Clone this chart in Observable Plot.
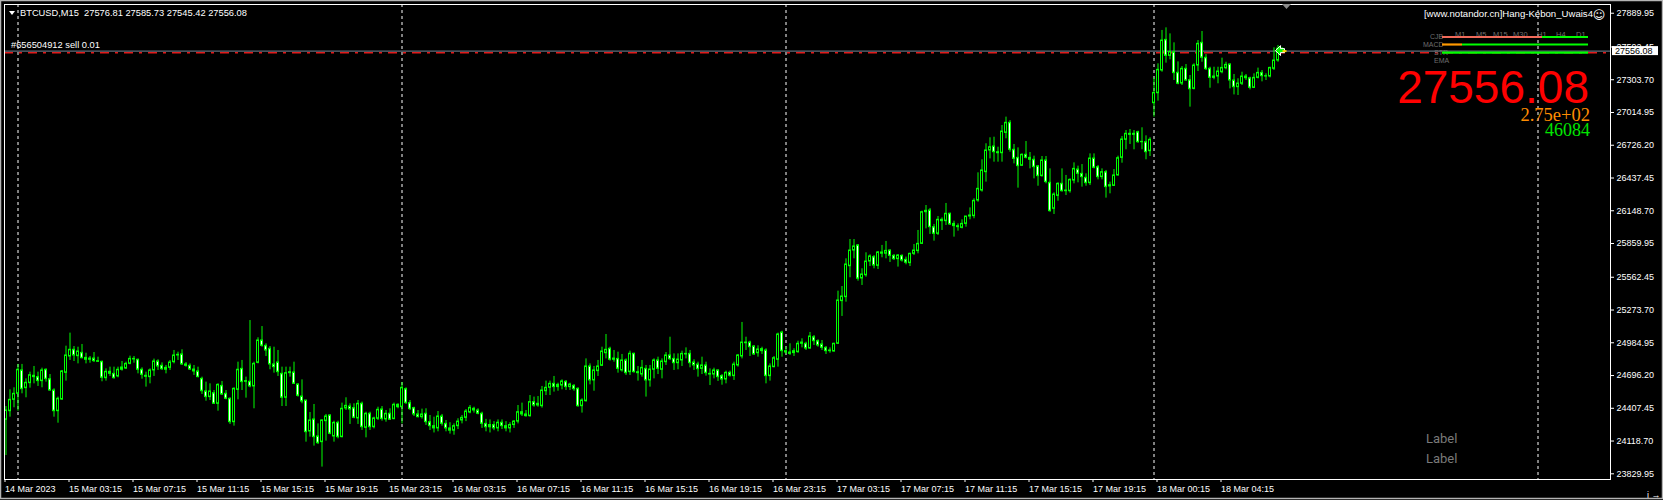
<!DOCTYPE html>
<html><head><meta charset="utf-8">
<script src="https://cdn.jsdelivr.net/npm/d3@7"></script>
<script src="https://cdn.jsdelivr.net/npm/@observablehq/plot@0.6"></script>
<style>
html,body{margin:0;padding:0;background:#000;overflow:hidden}
#chart svg{display:block}
</style></head><body><div id="chart"></div>
<script>
// ---- data (BTCUSD, M15) ----
const opens = [24306,24382,24482,24535,24741,24585,24629,24694,24682,24647,24747,24664,24564,24382,24485,24720,24864,24923,24867,24896,
24852,24835,24846,24823,24817,24673,24729,24711,24688,24747,24758,24799,24843,24835,24747,24694,24682,24741,24820,24782,
24747,24764,24814,24873,24882,24794,24782,24749,24732,24667,24556,24506,24541,24447,24605,24535,24491,24285,24570,24755,
24641,24641,24600,24808,25005,24958,24932,24794,24811,24711,24500,24717,24723,24617,24511,24476,24203,24309,24159,24109,
24294,24344,24159,24279,24153,24406,24423,24409,24318,24447,24235,24359,24241,24315,24397,24309,24359,24312,24438,24417,
24576,24453,24409,24353,24329,24359,24285,24250,24230,24335,24270,24230,24210,24250,24300,24323,24370,24403,24388,24359,
24270,24240,24260,24230,24280,24250,24230,24260,24290,24373,24353,24338,24462,24432,24426,24558,24588,24623,24594,24608,
24641,24594,24605,24579,24426,24470,24776,24653,24735,24782,24893,24932,24835,24843,24741,24829,24726,24888,24726,24705,
24755,24653,24747,24829,24747,24814,24873,24843,24805,24829,24887,24887,24811,24793,24755,24785,24711,24705,24741,24691,
24661,24720,24691,24785,24864,24987,24987,24952,24893,24929,24917,24691,24770,24835,25075,24911,24899,24894,24902,24976,
24976,24934,25034,24999,24970,24940,24911,24908,24976,25352,25387,25660,25798,25843,25552,25580,25701,25740,25663,25781,
25770,25798,25751,25722,25751,25716,25687,25769,25793,25857,26136,26151,26004,25945,26069,26057,26122,26033,26013,25998,
26033,26098,26101,26239,26327,26489,26680,26715,26665,26656,26835,26924,26686,26615,26545,26642,26615,26598,26540,26454,
26592,26395,26166,26280,26386,26321,26321,26415,26512,26474,26439,26392,26609,26533,26445,26489,26363,26368,26460,26615,
26774,26827,26818,26841,26753,26753,26674,27097,27185,27385,27655,27514,27545,27365,27270,27400,27300,27223,27429,27629,
27497,27400,27320,27332,27370,27405,27438,27297,27238,27268,27332,27317,27232,27320,27364,27335,27332,27400,27473,27576.81];
const highs = [24423,24570,24588,24794,24794,24667,24726,24776,24726,24761,24755,24705,24579,24506,24741,24955,25070,24952,24946,24970,
24893,24864,24899,24858,24823,24755,24770,24770,24770,24820,24814,24867,24864,24841,24764,24726,24755,24841,24835,24808,
24785,24829,24917,24902,24923,24811,24799,24785,24770,24682,24638,24623,24564,24623,24644,24564,24500,24588,24814,24829,
24682,25181,24814,25029,25128,24976,24952,24946,24917,24770,24770,24770,24814,24623,24658,24476,24370,24441,24270,24306,
24353,24350,24294,24294,24453,24500,24447,24447,24476,24462,24373,24373,24329,24417,24423,24388,24403,24453,24447,24635,
24588,24476,24417,24388,24400,24403,24344,24329,24379,24353,24300,24280,24270,24315,24344,24397,24432,24417,24403,24373,
24310,24305,24290,24305,24305,24290,24280,24300,24432,24453,24388,24520,24506,24511,24600,24647,24647,24688,24629,24658,
24652,24629,24617,24588,24491,24843,24799,24776,24829,24946,25058,24946,24917,24902,24882,24843,24911,24893,24776,24829,
24785,24785,24843,24858,24843,24899,25034,24887,24887,24911,24940,24917,24835,24814,24858,24814,24755,24761,24746,24705,
24735,24735,24814,24882,25164,25034,24999,24961,24958,24946,24932,24799,24864,25070,25087,24946,24976,24932,24999,25020,
24990,25076,25049,25011,25005,24952,24940,24981,25440,25481,25725,25895,25895,25851,25637,25778,25760,25754,25790,25843,
25878,25804,25763,25763,25760,25740,25775,25851,25975,26145,26195,26169,26028,26098,26086,26213,26128,26057,26033,26069,
26098,26174,26254,26483,26598,26739,26792,26797,26709,26900,26974,26944,26733,26703,26650,26759,26662,26630,26548,26627,
26627,26518,26307,26395,26518,26460,26430,26571,26542,26556,26474,26650,26650,26548,26518,26504,26401,26512,26630,26803,
26856,26865,26856,26850,26880,26809,26792,27320,27444,27738,27761,27708,27629,27461,27420,27438,27341,27444,27649,27729,
27526,27414,27414,27414,27494,27458,27444,27350,27312,27370,27350,27326,27356,27406,27385,27356,27414,27585,27605,27585.73];
const lows = [23991,24329,24412,24382,24535,24500,24585,24623,24600,24588,24638,24558,24329,24276,24476,24647,24829,24820,24799,24843,
24799,24805,24811,24811,24641,24647,24688,24664,24676,24735,24749,24791,24805,24711,24664,24594,24623,24688,24741,24741,
24711,24741,24799,24829,24785,24770,24741,24697,24676,24529,24470,24476,24441,24382,24520,24482,24265,24250,24482,24564,
24497,24588,24403,24799,24946,24864,24747,24717,24688,24423,24423,24682,24617,24506,24447,24109,24153,24074,24088,23889,
24118,24174,24109,24138,24147,24388,24265,24315,24265,24212,24147,24212,24226,24300,24294,24285,24300,24306,24403,24270,
24441,24388,24335,24323,24312,24256,24212,24190,24200,24250,24200,24180,24170,24220,24270,24290,24359,24365,24350,24230,
24200,24190,24210,24200,24220,24200,24190,24230,24270,24335,24329,24329,24417,24417,24409,24520,24520,24550,24558,24570,
24564,24564,24558,24417,24365,24462,24614,24558,24688,24776,24843,24823,24814,24717,24726,24697,24697,24717,24647,24682,
24506,24594,24667,24705,24667,24785,24829,24741,24747,24776,24843,24764,24741,24682,24705,24691,24608,24667,24644,24611,
24623,24682,24653,24770,24843,24917,24864,24873,24858,24882,24623,24647,24764,24770,24858,24882,24873,24864,24893,24940,
24917,24929,24961,24946,24917,24882,24893,24902,24970,25217,25343,25558,25725,25528,25490,25563,25657,25637,25631,25734,
25725,25693,25710,25652,25696,25672,25657,25754,25769,25851,25989,25940,25881,25931,25975,26019,26019,25916,25969,25989,
26004,26069,26078,26224,26313,26401,26606,26577,26577,26577,26783,26665,26562,26348,26542,26606,26518,26430,26365,26445,
26386,26136,26116,26233,26313,26283,26304,26386,26395,26357,26365,26371,26518,26421,26421,26260,26298,26363,26454,26568,
26686,26733,26686,26744,26686,26598,26627,26974,27115,27370,27450,27479,27297,27259,27253,27291,27062,27214,27376,27458,
27385,27229,27303,27268,27356,27391,27223,27170,27165,27253,27297,27214,27226,27311,27285,27297,27320,27385,27458,27545.42];
const closes = [24388,24482,24535,24747,24576,24632,24699,24682,24647,24741,24664,24564,24382,24491,24732,24873,24923,24873,24908,24849,
24835,24846,24823,24817,24676,24729,24711,24673,24747,24767,24799,24843,24838,24747,24702,24685,24741,24820,24776,24752,
24764,24811,24873,24879,24794,24782,24749,24732,24682,24558,24506,24556,24447,24614,24529,24491,24285,24579,24747,24638,
24647,24600,24799,25005,24958,24917,24794,24770,24726,24500,24717,24726,24623,24517,24467,24197,24300,24153,24100,24300,
24335,24182,24279,24153,24403,24429,24397,24323,24447,24241,24359,24241,24318,24394,24312,24359,24306,24438,24417,24588,
24453,24400,24353,24329,24353,24285,24250,24230,24335,24270,24230,24210,24250,24290,24323,24379,24411,24388,24359,24270,
24240,24260,24230,24280,24250,24230,24260,24290,24373,24353,24338,24462,24432,24447,24564,24588,24623,24594,24614,24644,
24594,24617,24576,24426,24476,24776,24653,24741,24776,24908,24923,24835,24846,24755,24829,24717,24888,24726,24717,24764,
24653,24749,24829,24755,24820,24873,24840,24805,24837,24887,24882,24805,24785,24752,24785,24717,24705,24741,24682,24661,
24720,24694,24793,24873,24987,24981,24946,24882,24926,24911,24691,24776,24849,25058,24911,24899,24887,24911,24976,24987,
24934,25040,24999,24961,24940,24911,24917,24976,25358,25393,25675,25798,25834,25549,25587,25701,25746,25666,25781,25770,
25795,25751,25722,25754,25710,25690,25769,25798,25857,26136,26148,26004,25945,26069,26057,26122,26028,26013,26004,26033,
26098,26107,26236,26342,26504,26680,26709,26665,26656,26847,26924,26686,26606,26542,26642,26615,26598,26533,26454,26592,
26401,26145,26292,26386,26321,26327,26421,26518,26474,26445,26392,26609,26527,26445,26489,26357,26374,26460,26612,26777,
26827,26818,26827,26753,26756,26665,26774,27188,27391,27649,27514,27548,27362,27268,27400,27297,27220,27429,27620,27497,
27397,27320,27332,27376,27408,27435,27297,27238,27270,27332,27317,27232,27320,27364,27335,27332,27408,27473,27576.81,27556.08];

const xTickIndex  = [0,16,32,48,64,80,96,112,128,144,160,176,192,208,224,240,256,272,288,304];
const xTickLabels = ["14 Mar 2023","15 Mar 03:15","15 Mar 07:15","15 Mar 11:15","15 Mar 15:15","15 Mar 19:15","15 Mar 23:15",
  "16 Mar 03:15","16 Mar 07:15","16 Mar 11:15","16 Mar 15:15","16 Mar 19:15","16 Mar 23:15","17 Mar 03:15","17 Mar 07:15",
  "17 Mar 11:15","17 Mar 15:15","17 Mar 19:15","18 Mar 00:15","18 Mar 04:15"];
const yTickValues = [23829.95,24118.70,24407.45,24696.20,24984.95,25273.70,25562.45,25859.95,26148.70,26437.45,26726.20,27014.95,27303.70,27592.45,27889.95];
const daySeparators = [3,99,195,287,383];
const headerText = "BTCUSD,M15  27576.81 27585.73 27545.42 27556.08";
const orderText = "#656504912 sell 0.01";
const bidPrice = 27556.08;
const orderPrice = 27541;
const brandText = "[www.notandor.cn]Hang-Kebon_Uwais4";
const bigPrice = "27556.08";
const subValue1 = "2.75e+02";
const subValue2 = "46084";
const tfLabels = ["M1","M5","M15","M30","H1","H4","D1"];
const panelRows = ["CJB","MACD","STR","EMA"];
const footLabels = ["Label","Label"];

const bars = opens.map((o,i)=>({i, o, h:highs[i], l:lows[i], c:closes[i], bear: closes[i] < o}));
const LIME = "#00ff00";
const FONT = "'Liberation Sans', Arial, sans-serif";

const plot = Plot.plot({
  width: 1663, height: 500,
  marginLeft: 4, marginRight: 53, marginTop: 4, marginBottom: 21,
  style: {background: "#000", color: "#fff", fontFamily: FONT, fontSize: "9px"},
  x: {type: "linear", domain: [-0.375, 401.125], axis: null},
  y: {type: "linear", domain: [23779.7, 27966.9], axis: null},
  marks: [
    Plot.ruleX(daySeparators, {x: d=>d, stroke: "#fff", strokeDasharray: "3,3", strokeWidth: 1}),
    Plot.ruleY([bidPrice], {stroke: "#778899", strokeWidth: 1}),
    Plot.ruleY([orderPrice], {stroke: "#e11b1b", strokeWidth: 1.4, strokeDasharray: "9,6,3,6"}),
    Plot.ruleX(bars, {x: "i", y1: "l", y2: "h", stroke: LIME, strokeWidth: 1}),
    Plot.rect(bars, {x1: d=>d.i-0.375, x2: d=>d.i+0.375, y1: d=>Math.min(d.o,d.c), y2: d=>Math.max(d.o,d.c), fill: LIME, insetTop: -0.5, insetBottom: -0.5}),
    Plot.rect(bars.filter(d=>Math.abs(d.o-d.c) > 22), {x1: d=>d.i-0.125, x2: d=>d.i+0.125, y1: d=>Math.min(d.o,d.c), y2: d=>Math.max(d.o,d.c), fill: d=>d.bear ? "#fff" : "#000", insetTop: 1, insetBottom: 1}),
    Plot.frame({stroke: "#fff"}),
    Plot.axisY(yTickValues, {anchor: "right", tickSize: 3, tickPadding: 3, tickFormat: d=>d.toFixed(2), fontSize: 9}),
    Plot.axisX(xTickIndex, {anchor: "bottom", tickSize: 3, tickPadding: 3, textAnchor: "start", dx: -1, tickFormat: d=>xTickLabels[xTickIndex.indexOf(d)], fontSize: 9})
  ]
});
document.getElementById("chart").appendChild(plot);

const svg = d3.select(plot);
const ys = plot.scale("y"), xs = plot.scale("x");
const yBid = ys.apply(bidPrice);
function txt(x, y, s, opts) {
  const o = Object.assign({anchor: "start", fill: "#fff", size: 9.3, family: FONT}, opts || {});
  return svg.append("text").attr("x", x).attr("y", y).attr("text-anchor", o.anchor).attr("fill", o.fill)
    .attr("font-size", o.size).attr("font-family", o.family).text(s);
}

// window border
svg.append("rect").attr("x",0.5).attr("y",0.5).attr("width",1662).attr("height",498).attr("fill","none").attr("stroke","#b4b4b4").attr("stroke-width",1.5);

// header
svg.append("path").attr("d","M9,11 L15,11 L12,15 Z").attr("fill","#fff");
txt(20, 16, headerText);
// order label
txt(11, yBid - 2.5, orderText);
// chart shift marker
svg.append("path").attr("d","M1282,4 L1291,4 L1286.5,9 Z").attr("fill","#8a8a8a");

// price box on axis
svg.append("rect").attr("x",1612).attr("y",yBid-4.5).attr("width",46).attr("height",9).attr("fill","#fff");
txt(1615, yBid + 3.2, bidPrice.toFixed(2), {fill: "#000", size: 9});

// last-bar marker
const xl = xs.apply(319);
svg.append("path").attr("d",`M${xl-6},${yBid} L${xl-1},${yBid-5} L${xl-1},${yBid-2} L${xl+3},${yBid-2} L${xl+3},${yBid+2} L${xl-1},${yBid+2} L${xl-1},${yBid+5} Z`).attr("fill",LIME).attr("stroke","#fff").attr("stroke-width",1);
svg.append("line").attr("x1",xl+1).attr("x2",xl+5).attr("y1",yBid+0.5).attr("y2",yBid+0.5).attr("stroke","#ffd800").attr("stroke-width",2);

// top-right panel
txt(1593, 17, brandText, {anchor: "end", size: 9.6});
txt(1599, 18.5, "☺", {anchor: "middle", size: 12, family: "'DejaVu Sans'"});
const tfX = [1455,1476,1493,1513,1537,1556,1576];
tfLabels.forEach((t,k)=>txt(tfX[k], 37, t, {fill: "#6e6e6e", size: 7.5}));
const rowY = [36,44,52,60];
const rowX = [1430,1423,1434,1434];
panelRows.forEach((t,k)=>txt(rowX[k], rowY[k] + 2.5, t, {fill: "#6e6e6e", size: 7}));
function seg(x1,x2,y,c){svg.append("line").attr("x1",x1).attr("x2",x2).attr("y1",y).attr("y2",y).attr("stroke",c).attr("stroke-width",2.2);}
seg(1442,1542,37,"#f06a5a"); seg(1542,1588,37,LIME);
seg(1442,1462,44.5,"#ff9900"); seg(1462,1588,44.5,LIME);
seg(1442,1588,52.7,LIME);

txt(1589, 103, bigPrice, {anchor: "end", fill: "#ff0000", size: 46});
txt(1590, 121, subValue1, {anchor: "end", fill: "#ff8c00", size: 18.5, family: "'Liberation Serif', 'Times New Roman', serif"});
txt(1590, 136, subValue2, {anchor: "end", fill: "#00e600", size: 18, family: "'Liberation Serif', 'Times New Roman', serif"});

footLabels.forEach((t,k)=>txt(1426, 443 + k*20, t, {fill: "#7a7a7a", size: 13, family: "Roboto, 'Liberation Sans', sans-serif"}));
</script></body></html>
